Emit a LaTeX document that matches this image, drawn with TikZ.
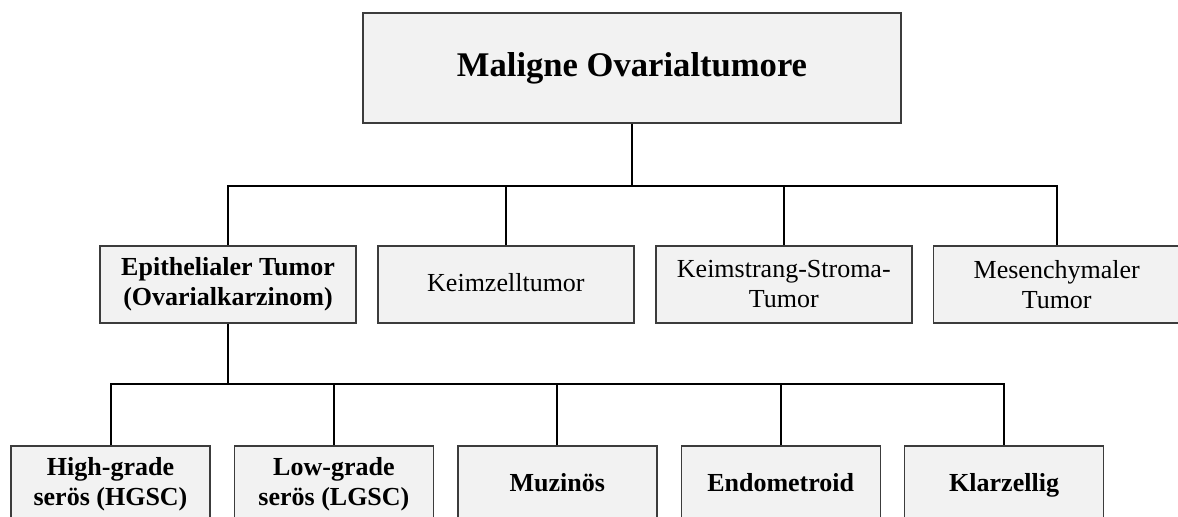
\documentclass[tikz,border=0pt]{standalone}
\usepackage{fontspec}
\setmainfont{Liberation Serif}
\usepackage{tikz}
\usetikzlibrary{positioning,calc}
\definecolor{boxfill}{HTML}{F2F2F2}
\definecolor{boxline}{HTML}{3C3C3C}

\begin{document}
\begin{tikzpicture}[x=0.5pt,y=0.5pt,
    box/.style={draw=boxline,line width=0.7pt,fill=boxfill,align=center,
                inner sep=2pt,font=\fontsize{13pt}{15pt}\selectfont},
    midbox/.style={box,minimum width=128pt,minimum height=38.5pt},
    leafbox/.style={box,minimum width=99.5pt,minimum height=38.5pt,
                    font=\fontsize{13pt}{15pt}\selectfont\bfseries},
    oneline/.style={text height=0.7em,text depth=0.04em},
    link/.style={draw=black,line width=1pt}]
  \useasboundingbox (0,0) rectangle (1178,517);

  % root
  \node[box,minimum width=269pt,minimum height=55pt,
        font=\fontsize{17.3pt}{20pt}\selectfont\bfseries] (top) at (632,449)
        {Maligne Ovarialtumore};

  % first level
  \node[midbox,font=\fontsize{13pt}{15pt}\selectfont\bfseries] (epi) at (228,232.5)
        {Epithelialer Tumor\\(Ovarialkarzinom)};
  \node[midbox,oneline,right=10.25pt of epi] (keim) {Keimzelltumor};
  \node[midbox,right=10.25pt of keim] (stroma) {Keimstrang-Stroma-\\Tumor};
  \node[midbox,minimum width=123pt,right=10.25pt of stroma] (mes) {Mesenchymaler\\Tumor};

  % epithelial subtypes
  \node[leafbox] (hg) at (110.5,32.5) {High-grade\\serös (HGSC)};
  \node[leafbox,right=11.5pt of hg] (lg) {Low-grade\\serös (LGSC)};
  \node[leafbox,oneline,right=11.5pt of lg] (muz) {Muzinös};
  \node[leafbox,oneline,right=11.5pt of muz] (endo) {Endometroid};
  \node[leafbox,oneline,right=11.5pt of endo] (klar) {Klarzellig};

  % connectors
  \coordinate (hub1) at ($(top.south)+(0,-62)$);
  \draw[link] (top.south) -- (hub1);
  \draw[link] (epi.north) |- (hub1) -| (mes.north);
  \foreach \n in {keim,stroma}
    \draw[link] (\n.north) -- (\n.north |- hub1);

  \coordinate (hub2) at ($(epi.south)+(0,-60)$);
  \draw[link] (epi.south) -- (hub2);
  \draw[link] (hg.north) |- (hub2) -| (klar.north);
  \foreach \n in {lg,muz,endo}
    \draw[link] (\n.north) -- (\n.north |- hub2);
\end{tikzpicture}
\end{document}
